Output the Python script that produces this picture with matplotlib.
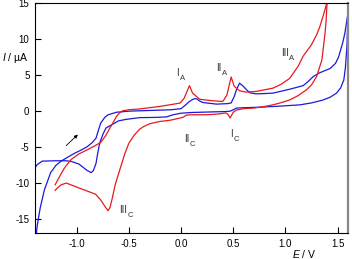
import matplotlib
matplotlib.use("Agg")
import matplotlib.pyplot as plt

plt.rcParams["font.family"] = ["Liberation Sans", "DejaVu Sans"]
plt.rcParams["mathtext.fontset"] = "custom"
plt.rcParams["mathtext.it"] = "Liberation Sans:italic"
plt.rcParams["mathtext.rm"] = "Liberation Sans"

# blue scan, forward (anodic) branch
blue_fwd_E = [-1.39, -1.38, -1.35, -1.31, -1.25, -1.20, -1.15, -1.08, -1.02, -0.95,
              -0.90, -0.85, -0.815, -0.79, -0.77, -0.73, -0.70, -0.62, -0.50, -0.30,
              -0.10, 0.00, 0.05, 0.08, 0.12, 0.146, 0.18, 0.21, 0.34, 0.45,
              0.48, 0.51, 0.53, 0.56, 0.59, 0.63, 0.66, 0.72, 0.80, 0.88,
              1.04, 1.17, 1.22, 1.27, 1.33, 1.43, 1.48, 1.51, 1.55, 1.57, 1.60]
blue_fwd_I = [-17.5, -16.1, -13.5, -11.0, -8.6, -7.6, -7.0, -6.4, -5.9, -5.4,
              -5.0, -4.4, -3.8, -2.6, -1.7, -0.9, -0.56, -0.2, -0.05, 0.05,
              0.14, 0.3, 0.9, 1.3, 1.65, 1.7, 1.35, 1.15, 0.93, 1.0,
              1.1, 2.0, 2.9, 3.85, 3.5, 2.9, 2.5, 2.36, 2.4, 2.46,
              3.0, 3.5, 4.1, 4.8, 5.3, 5.9, 6.6, 7.5, 9.5, 10.8, 13.6]

# blue scan, reverse (cathodic) branch
blue_rev_E = [1.60, 1.59, 1.575, 1.56, 1.53, 1.49, 1.43, 1.36, 1.25, 1.14,
              1.00, 0.88, 0.75, 0.66, 0.58, 0.53, 0.50, 0.47, 0.43, 0.30,
              0.11, 0.00, -0.08, -0.14, -0.25, -0.40, -0.53, -0.60, -0.66, -0.72,
              -0.75, -0.78, -0.80, -0.815, -0.84, -0.86, -0.90, -0.98, -1.05, -1.10,
              -1.20, -1.33, -1.38, -1.41]
blue_rev_I = [13.6, 9.0, 6.0, 4.3, 3.2, 2.46, 1.9, 1.5, 1.1, 0.83,
              0.7, 0.6, 0.5, 0.46, 0.42, 0.37, 0.14, -0.05, -0.1, -0.15,
              -0.23, -0.33, -0.56, -0.85, -0.92, -0.95, -1.2, -1.4, -1.9, -2.4,
              -3.3, -4.5, -6.0, -7.3, -8.3, -8.6, -8.3, -7.4, -7.05, -6.95,
              -6.95, -7.0, -7.5, -8.2]

# red scan, forward branch
red_fwd_E = [-1.207, -1.17, -1.12, -1.056, -0.98, -0.896, -0.83, -0.77, -0.72, -0.69,
             -0.65, -0.62, -0.59, -0.56, -0.50, -0.40, -0.21, -0.01, 0.03, 0.06,
             0.08, 0.095, 0.11, 0.18, 0.30, 0.40, 0.44, 0.46, 0.48, 0.51,
             0.56, 0.62, 0.72, 0.88, 0.96, 1.04, 1.12, 1.17, 1.20, 1.25,
             1.30, 1.33, 1.37, 1.40]
red_fwd_I = [-10.3, -9.3, -8.0, -6.8, -6.0, -5.4, -4.9, -4.4, -3.4, -2.6,
             -1.6, -0.8, -0.3, 0.0, 0.15, 0.25, 0.6, 1.07, 1.76, 2.8,
             3.5, 3.0, 2.46, 1.6, 1.4, 1.3, 2.2, 3.5, 4.7, 3.4,
             2.8, 2.6, 2.7, 3.15, 3.7, 4.5, 6.15, 7.6, 8.2, 9.2,
             10.6, 11.7, 13.6, 15.2]

# red scan, reverse branch
red_rev_E = [1.40, 1.39, 1.38, 1.35, 1.30, 1.25, 1.20, 1.12, 1.04, 0.95,
             0.88, 0.78, 0.69, 0.60, 0.53, 0.50, 0.47, 0.45, 0.43, 0.35,
             0.24, 0.10, 0.05, 0.02, -0.01, -0.10, -0.21, -0.30, -0.36, -0.40,
             -0.45, -0.50, -0.54, -0.57, -0.60, -0.63, -0.66, -0.68, -0.70, -0.73,
             -0.77, -0.82, -0.93, -1.02, -1.10, -1.15, -1.19, -1.207]
red_rev_I = [15.2, 12.5, 10.8, 7.1, 4.8, 3.6, 2.9, 2.1, 1.5, 1.1,
             0.83, 0.55, 0.37, 0.3, 0.1, -0.2, -1.0, -0.5, -0.3, -0.45,
             -0.55, -0.55, -0.6, -0.9, -1.0, -1.3, -1.5, -1.8, -2.2, -2.6,
             -3.4, -4.5, -6.0, -7.4, -8.8, -10.2, -12.2, -13.4, -13.9, -13.3,
             -12.4, -11.6, -11.0, -10.5, -10.05, -10.3, -10.8, -11.07]

# peak labels: (main, subscript, E, I) -- E is the left edge
peak_labels = [("I", "A", -0.045, 5.3), ("II", "A", 0.34, 6.0), ("III", "A", 0.96, 8.0),
               ("II", "C", 0.03, -3.9), ("I", "C", 0.475, -3.2), ("III", "C", -0.59, -13.8)]

red = "#e8191e"
blue = "#1a1adc"
label_color = "#333333"

fig = plt.figure(figsize=(3.52, 2.59), dpi=100)
ax = fig.add_axes([35 / 352, 26 / 259, 313 / 352, 230 / 259])

ax.plot(blue_fwd_E, blue_fwd_I, color=blue, lw=0.9)
ax.plot(blue_rev_E, blue_rev_I, color=blue, lw=0.9)
ax.plot(red_fwd_E, red_fwd_I, color=red, lw=0.9)
ax.plot(red_rev_E, red_rev_I, color=red, lw=0.9)

for main, sub, e, i in peak_labels:
    ax.text(e, i, main, fontsize=7, color=label_color, ha="left", va="center")
    ax.annotate(sub, xy=(e, i), xytext=(len(main) * 1.7 + 0.8, -4),
                textcoords="offset points", fontsize=5.5, color=label_color,
                ha="left", va="center")

# scan direction arrow
ax.annotate("", xy=(-0.97, -3.05), xytext=(-1.12, -5.1),
            arrowprops=dict(arrowstyle="-|>", color="black", lw=0.6,
                            mutation_scale=5))

ax.set_xlim(-1.4, 1.6)
ax.set_ylim(-17, 15)
ax.set_xticks([-1.0, -0.5, 0.0, 0.5, 1.0, 1.5])
ax.set_xticklabels(["-1.0", "-0.5", "0.0", "0.5", "1.0", "1.5"])
ax.set_yticks([-15, -10, -5, 0, 5, 10, 15])
ax.set_yticklabels(["-15", "-10", "-5", "0", "5", "10", "15"])
ax.tick_params(direction="in", length=4, width=0.8, labelsize=7, pad=4)
ax.spines["right"].set_color("#888888")
ax.spines["right"].set_linewidth(1.6)
for s in ["left", "bottom", "top"]:
    ax.spines[s].set_linewidth(0.8)

fig.text(2 / 352, 1 - 58 / 259, "$\\mathit{I}$ / \u00b5A", fontsize=7.5,
         ha="left", va="center")
fig.text(316 / 352, 1 - 254 / 259, "$\\mathit{E}$ / V", fontsize=7.5,
         ha="right", va="center")

fig.savefig("out.png", dpi=100)
